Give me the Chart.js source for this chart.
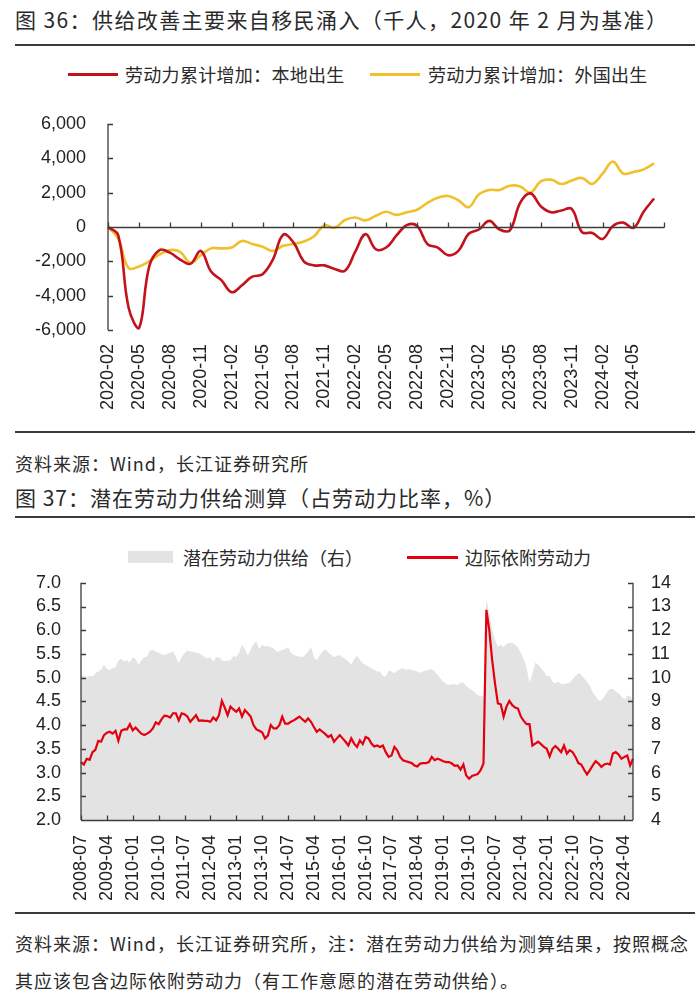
<!DOCTYPE html>
<html><head><meta charset="utf-8">
<script src="https://cdn.jsdelivr.net/npm/chart.js@4.4.1/dist/chart.umd.min.js"></script>
<style>
body{margin:0;background:#fff;width:700px;height:1001px;position:relative;overflow:hidden;font-family:"Noto Sans CJK SC","Noto Sans",sans-serif;color:#2a2a2a}
.t{position:absolute;left:15px;white-space:nowrap;line-height:24px}
.rule{position:absolute;left:15px;width:680px;height:2px;background:#3a3a3a}
.leg{position:absolute;white-space:nowrap;font-size:18px;line-height:24px}
.sw{position:absolute}
canvas{position:absolute;left:0}
</style></head><body>
<div class="t" style="top:7px;font-size:21px;letter-spacing:1.4px">图 36：供给改善主要来自移民涌入（千人，2020 年 2 月为基准）</div>
<div class="rule" style="top:44px"></div>
<div class="sw" style="left:68px;top:73px;width:50px;height:3px;background:#c4121a"></div>
<div class="leg" style="left:125px;top:62px;letter-spacing:0.3px">劳动力累计增加：本地出生</div>
<div class="sw" style="left:370px;top:73px;width:50px;height:3px;background:#f0c12c"></div>
<div class="leg" style="left:428px;top:62px;letter-spacing:0.3px">劳动力累计增加：外国出生</div>
<canvas id="c1" width="700" height="339" style="top:91px"></canvas>
<div class="rule" style="top:431px"></div>
<div class="t" style="top:451px;font-size:18px;letter-spacing:1px">资料来源：Wind，长江证券研究所</div>
<div class="t" style="top:485px;font-size:21px;letter-spacing:1px">图 37：潜在劳动力供给测算（占劳动力比率，%）</div>
<div class="rule" style="top:516px"></div>
<div class="sw" style="left:128px;top:551px;width:45px;height:12px;background:#e3e3e3"></div>
<div class="leg" style="left:183px;top:545px">潜在劳动力供给（右）</div>
<div class="sw" style="left:407px;top:556px;width:51px;height:3px;background:#e3000f"></div>
<div class="leg" style="left:465px;top:545px">边际依附劳动力</div>
<canvas id="c2" width="700" height="358" style="top:552px"></canvas>
<div class="rule" style="top:912px"></div>
<div class="t" style="top:931px;font-size:18px;letter-spacing:1px">资料来源：Wind，长江证券研究所，注：潜在劳动力供给为测算结果，按照概念</div>
<div class="t" style="top:968px;font-size:18px;letter-spacing:1px">其应该包含边际依附劳动力（有工作意愿的潜在劳动供给）。</div>
<script>
function monthSeq(y, m, n){const out=[];for(let i=0;i<n;i++){const mm=(m-1+i)%12+1;const yy=y+Math.floor((m-1+i)/12);out.push(yy+'-'+String(mm).padStart(2,'0'));}return out;}

// ---- Chart 36 data (thousands, base 2020-02) ----
const months1 = monthSeq(2020, 2, 55); // axis runs to 2024-08
const xTickLabels1 = ['2020-02','2020-05','2020-08','2020-11','2021-02','2021-05','2021-08','2021-11','2022-02','2022-05','2022-08','2022-11','2023-02','2023-05','2023-08','2023-11','2024-02','2024-05'];
const yTicks1 = [-6000,-4000,-2000,0,2000,4000,6000];
const nativeBorn = [0,-500,-4700,-5900,-2300,-1350,-1500,-1900,-2150,-1400,
  -2600,-3100,-3800,-3400,-2900,-2750,-1900,-450,-900,-2000,
  -2240,-2240,-2450,-2550,-1440,-420,-1300,-1200,-500,100,
  50,-1000,-1200,-1650,-1400,-400,-150,350,-150,-200,
  1400,1950,1200,850,950,1050,-300,-350,-700,50,
  250,-50,900,1650];
const foreignBorn = [0,-700,-2400,-2300,-2000,-1600,-1350,-1450,-2100,-1650,
  -1250,-1250,-1200,-820,-1000,-1150,-1400,-1100,-1000,-850,
  -550,100,-50,400,550,380,650,880,700,850,
  1000,1400,1700,1800,1550,1150,1900,2150,2150,2400,
  2350,2000,2650,2750,2500,2700,2850,2500,3100,3800,
  3100,3200,3350,3700];

// ---- Chart 37 data (% of labor force) ----
const months2 = monthSeq(2008, 7, 193);
const xTickLabels2 = ['2008-07','2009-04','2010-01','2010-10','2011-07','2012-04','2013-01','2013-10','2014-07','2015-04','2016-01','2016-10','2017-07','2018-04','2019-01','2019-10','2020-07','2021-04','2022-01','2022-10','2023-07','2024-04'];
const marginallyAttached = [3.22,3.17,3.29,3.27,3.43,3.48,3.67,3.65,3.79,3.84,
  3.86,3.82,3.88,3.67,3.88,3.91,3.91,4.02,3.89,3.95,
  3.88,3.82,3.79,3.82,3.86,3.93,4.06,4.02,4.12,4.20,
  4.19,4.16,4.25,4.25,4.10,4.25,4.23,4.18,4.07,4.14,
  4.21,4.09,4.10,4.09,4.09,4.07,4.16,4.10,4.21,4.51,
  4.37,4.21,4.39,4.33,4.28,4.35,4.18,4.32,4.25,4.18,
  4.00,3.91,3.88,3.85,3.72,3.78,4.00,3.93,3.93,4.00,
  4.18,4.03,4.03,4.07,4.10,4.14,4.18,4.12,4.07,4.14,
  4.07,3.96,3.86,3.91,3.86,3.81,3.75,3.79,3.65,3.72,
  3.79,3.72,3.65,3.57,3.72,3.61,3.54,3.68,3.60,3.75,
  3.72,3.61,3.55,3.57,3.54,3.57,3.43,3.33,3.36,3.54,
  3.47,3.33,3.26,3.24,3.22,3.20,3.15,3.13,3.19,3.20,
  3.20,3.22,3.33,3.26,3.29,3.27,3.24,3.22,3.22,3.19,
  3.14,3.15,3.06,3.17,2.94,2.87,2.93,2.95,2.97,3.05,
  3.19,6.43,6.01,5.38,4.88,4.46,4.44,4.18,4.39,4.51,
  4.42,4.37,4.35,4.18,4.09,4.02,4.02,3.57,3.61,3.65,
  3.60,3.54,3.50,3.34,3.50,3.56,3.50,3.43,3.57,3.40,
  3.47,3.43,3.33,3.20,3.17,3.06,2.96,3.05,3.15,3.24,
  3.19,3.12,3.17,3.19,3.17,3.40,3.43,3.38,3.29,3.33,
  3.36,3.15,3.29];
const potentialSupply = [10.12,10.07,10.02,10.07,10.05,10.19,10.26,10.33,10.54,10.36,
  10.33,10.40,10.44,10.72,10.81,10.68,10.75,10.64,10.86,10.78,
  10.54,10.72,10.86,10.89,11.15,11.18,11.10,11.06,11.00,10.96,
  11.00,11.06,11.10,10.86,10.61,10.86,11.03,11.15,11.10,11.09,
  11.06,11.03,10.96,10.86,10.82,10.86,10.68,10.86,10.86,10.75,
  10.68,10.72,10.72,10.92,10.86,11.06,11.39,11.20,10.92,11.18,
  11.43,11.53,11.20,11.39,11.32,11.34,11.29,11.23,11.10,11.10,
  11.18,11.20,11.29,11.06,10.96,10.92,10.89,10.86,10.96,11.10,
  11.29,10.86,10.75,10.92,11.10,11.20,11.06,10.96,10.86,10.92,
  10.96,10.86,10.78,10.68,10.54,10.78,10.92,10.75,10.61,10.53,
  10.47,10.40,10.33,10.26,10.26,10.07,10.05,10.30,10.26,10.19,
  10.30,10.36,10.40,10.33,10.36,10.33,10.30,10.26,10.21,10.26,
  10.30,10.33,10.36,10.26,10.12,9.97,9.83,9.73,9.69,9.72,
  9.72,9.69,9.79,9.79,9.65,9.55,9.48,9.37,9.27,9.23,
  9.20,13.30,12.73,12.02,11.60,11.29,11.39,11.29,11.43,11.46,
  11.46,11.39,11.29,11.03,10.78,10.40,9.79,10.16,10.64,10.54,
  10.40,10.26,10.07,10.07,9.83,9.76,9.83,9.73,9.73,9.76,
  9.79,9.93,10.07,10.19,10.12,9.97,9.83,9.65,9.37,9.23,
  9.03,9.03,9.20,9.41,9.51,9.54,9.41,9.34,9.20,9.08,
  9.23,9.25,8.99];

Chart.defaults.font.family = '"Liberation Sans", Arial, sans-serif';
Chart.defaults.color = '#222';
const AXIS = '#3c3c3c';

// draws axis lines with inward tick marks, using the chart's own scales
const axesPlugin = {
  id: 'axesPlugin',
  afterDraw(chart, args, o) {
    const ctx = chart.ctx, a = chart.chartArea, L = 5;
    ctx.save();
    ctx.strokeStyle = AXIS; ctx.lineWidth = 1.3;
    ctx.beginPath();
    (o.yAxes || []).forEach(ax => {
      const s = chart.scales[ax.id];
      const x = ax.side === 'left' ? a.left : a.right;
      const dir = ax.side === 'left' ? 1 : -1;
      ctx.moveTo(x, a.top); ctx.lineTo(x, a.bottom);
      s.ticks.forEach(t => { const y = Math.round(s.getPixelForValue(t.value)) + 0.5; ctx.moveTo(x, y); ctx.lineTo(x + dir * L, y); });
    });
    if (o.xAxis) {
      const xs = chart.scales.x, ys = chart.scales[o.xAxis.yId];
      const y = Math.round(ys.getPixelForValue(o.xAxis.at)) + 0.5;
      ctx.moveTo(a.left, y); ctx.lineTo(a.right, y);
      const lab = xs.getLabels();
      lab.forEach((l, i) => {
        if (o.xAxis.tickEvery && i % o.xAxis.tickEvery === 0) {
          const x = Math.round(xs.getPixelForValue(i)) + 0.5;
          ctx.moveTo(x, y); ctx.lineTo(x, y - L);
        }
      });
    }
    ctx.stroke();
    ctx.restore();
  }
};

function xTickCb(list){ return function(v){ const l = this.getLabelForValue(v); return list.includes(l) ? l : ''; }; }

new Chart(document.getElementById('c1'), {
  type: 'line',
  data: { labels: months1, datasets: [
    { data: nativeBorn, borderColor: '#c4121a', borderWidth: 2.6, pointRadius: 0, tension: 0.4, fill: false },
    { data: foreignBorn, borderColor: '#f0c12c', borderWidth: 2.6, pointRadius: 0, tension: 0.4, fill: false }
  ]},
  options: {
    responsive: false, animation: false, events: [],
    layout: { padding: { top: 0, right: 33, left: 0, bottom: 0 } },
    plugins: { legend: { display: false }, tooltip: { enabled: false },
      axesPlugin: { yAxes: [{ id: 'y', side: 'left' }], xAxis: { yId: 'y', at: 0, tickEvery: 3 } } },
    scales: {
      x: { grid: { display: false, drawTicks: false }, border: { display: false },
        ticks: { autoSkip: false, minRotation: 90, maxRotation: 90, padding: 14, font: { size: 18 }, callback: xTickCb(xTickLabels1) },
        afterFit(s){ s.height = 100; } },
      y: { min: -6000, max: 6000, grid: { display: false, drawTicks: false }, border: { display: false },
        afterBuildTicks(s){ s.ticks = yTicks1.map(v => ({ value: v })); },
        ticks: { autoSkip: false, padding: 22, font: { size: 18 }, callback: v => v.toLocaleString('en-US') },
        afterFit(s){ s.width = 108; } }
    }
  },
  plugins: [axesPlugin]
});

new Chart(document.getElementById('c2'), {
  type: 'line',
  data: { labels: months2, datasets: [
    { data: marginallyAttached, yAxisID: 'y', borderColor: '#e3000f', borderWidth: 2.2, pointRadius: 0, tension: 0, fill: false, order: 0 },
    { data: potentialSupply, yAxisID: 'y2', borderWidth: 0, backgroundColor: '#e3e3e3', pointRadius: 0, tension: 0, fill: 'start', order: 1 }
  ]},
  options: {
    responsive: false, animation: false, events: [],
    layout: { padding: { top: 0, right: 0, left: 0, bottom: 0 } },
    plugins: { legend: { display: false }, tooltip: { enabled: false },
      axesPlugin: { yAxes: [{ id: 'y', side: 'left' }, { id: 'y2', side: 'right' }], xAxis: { yId: 'y', at: 2, tickEvery: 9 } } },
    scales: {
      x: { grid: { display: false, drawTicks: false }, border: { display: false },
        ticks: { autoSkip: false, minRotation: 90, maxRotation: 90, padding: 15, font: { size: 18 }, callback: xTickCb(xTickLabels2) },
        afterFit(s){ s.height = 90; } },
      y: { position: 'left', min: 2, max: 7, grid: { display: false, drawTicks: false }, border: { display: false },
        ticks: { autoSkip: false, stepSize: 0.5, padding: 20, font: { size: 18 }, callback: v => v.toFixed(1) },
        afterFit(s){ s.width = 81; } },
      y2: { position: 'right', min: 4, max: 14, grid: { display: false, drawTicks: false }, border: { display: false },
        ticks: { autoSkip: false, stepSize: 1, padding: 18, font: { size: 18 } },
        afterFit(s){ s.width = 67; } }
    }
  },
  plugins: [axesPlugin]
});
</script>
</body></html>
